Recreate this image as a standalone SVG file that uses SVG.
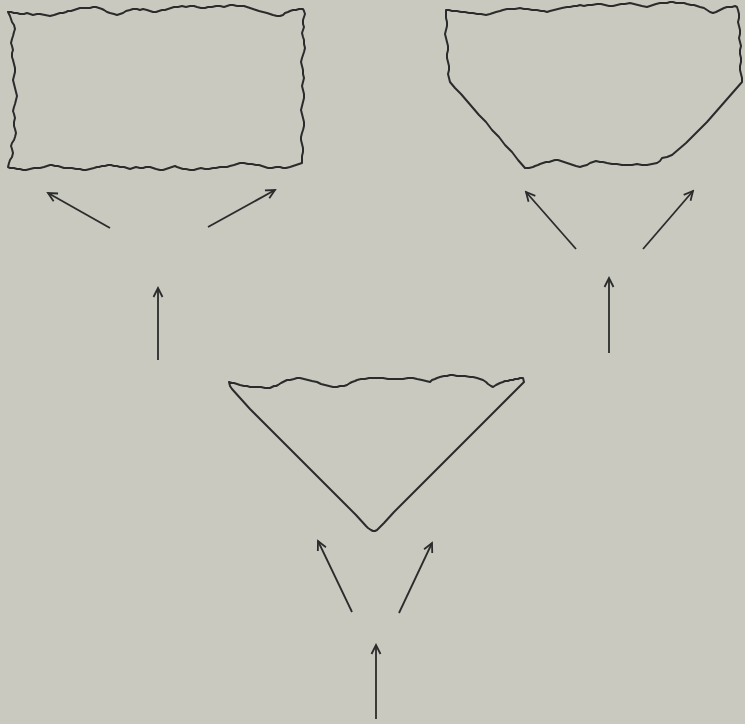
<svg xmlns="http://www.w3.org/2000/svg" width="745" height="724" viewBox="0 0 745 724">
<style>
.shape{fill:none;stroke:#2b2b2b;stroke-width:2;stroke-linejoin:round}
.arr{fill:none;stroke:#2b2b2b;stroke-width:1.8;marker-end:url(#ah)}
</style>
<defs>
<marker id="ah" markerUnits="userSpaceOnUse" markerWidth="14" markerHeight="14" viewBox="-12 -7 14 14" refX="0" refY="0" orient="auto">
<path d="M-9,-4.5 L0,0 L-9,4.5" fill="none" stroke="#2b2b2b" stroke-width="1.8" stroke-linejoin="miter"/>
</marker>
</defs>
<rect width="745" height="724" fill="#c9c9c0"/>
<g id="rect-fragment">
<path class="shape" d="M8,12 L11,12 L14,13 L17,13 L20,14 L24,14 L27,13 L30,14 L33,15 L37,14 L40,14 L45,15 L50,16 L54,15 L57,14 L60,13 L63,13 L66,12 L68,11 L71,11 L74,10 L77,9 L80,8 L84,8 L87,8 L90,8 L93,7 L96,7 L99,8 L102,9 L104,10 L107,12 L110,13 L114,14 L117,15 L120,14 L123,13 L126,11 L130,10 L133,9 L137,9 L140,10 L143,9 L147,10 L150,11 L153,12 L156,12 L159,11 L162,10 L165,10 L168,9 L171,8 L174,7 L178,7 L182,6 L186,7 L190,6 L194,6 L197,7 L201,8 L205,8 L208,7 L212,7 L216,6 L220,6 L224,7 L227,6 L230,5 L233,5 L237,6 L240,6 L244,6 L247,7 L250,8 L253,9 L256,10 L259,11 L263,12 L267,13 L270,14 L273,15 L277,16 L280,16 L283,15 L285,13 L288,12 L290,11 L293,10 L296,10 L299,9 L303,9 L304,11 L305,14 L304,17 L303,20 L303,24 L304,27 L303,30 L302,33 L303,37 L304,40 L304,44 L305,48 L304,52 L303,55 L302,58 L301,62 L302,66 L303,70 L303,74 L304,78 L303,82 L302,86 L303,90 L304,94 L304,98 L303,102 L302,106 L301,110 L302,114 L303,118 L304,122 L304,126 L303,130 L302,133 L301,137 L301,140 L302,144 L303,148 L303,152 L302,156 L302,160 L302,163 L299,164 L296,165 L293,166 L290,167 L286,168 L283,168 L280,167 L276,167 L272,168 L268,168 L265,167 L262,166 L259,165 L256,165 L252,164 L248,164 L244,163 L240,163 L237,164 L234,165 L230,166 L227,167 L224,167 L220,167 L216,168 L213,168 L209,169 L205,169 L201,168 L197,169 L194,170 L190,170 L186,169 L183,169 L180,168 L177,167 L175,166 L172,167 L169,168 L166,169 L163,170 L160,170 L156,169 L153,168 L150,167 L146,167 L143,168 L140,168 L136,167 L133,168 L130,169 L127,168 L124,167 L120,167 L117,166 L114,166 L111,165 L108,165 L105,166 L102,166 L99,167 L97,167 L94,168 L90,169 L86,170 L83,170 L80,169 L76,169 L72,168 L68,168 L64,168 L61,167 L58,166 L55,166 L52,165 L50,165 L47,166 L44,167 L40,168 L37,168 L34,168 L30,169 L26,170 L23,170 L20,169 L17,169 L14,168 L12,168 L10,168 L8,167 L9,163 L10,160 L12,157 L13,153 L12,149 L11,146 L12,143 L14,140 L15,137 L16,133 L15,129 L14,126 L14,122 L15,118 L14,114 L13,111 L14,107 L15,104 L16,100 L17,96 L16,92 L15,88 L14,84 L13,80 L14,76 L15,72 L15,68 L14,64 L13,60 L12,57 L12,53 L13,50 L12,46 L11,43 L12,39 L13,36 L14,32 L15,29 L14,25 L12,22 L11,19 L10,16 Z"/>
</g>
<g id="trapezoid-fragment">
<path class="shape" d="M446,10 L449,10 L452,11 L455,11 L457,11 L461,12 L465,12 L469,13 L473,13 L477,14 L481,14 L486,15 L490,14 L493,13 L496,12 L500,11 L503,10 L507,9 L511,9 L515,9 L520,8 L524,9 L528,9 L532,10 L537,10 L541,11 L544,11 L547,12 L550,11 L554,10 L558,9 L562,8 L567,7 L570,7 L574,6 L577,6 L580,5 L584,6 L588,5 L592,5 L597,4 L601,4 L605,5 L609,6 L613,6 L617,5 L621,4 L625,4 L630,3 L634,4 L638,5 L642,6 L647,7 L650,6 L653,5 L656,4 L660,3 L663,3 L667,3 L670,2 L673,2 L676,3 L680,3 L684,3 L687,4 L691,5 L694,5 L697,6 L700,7 L704,8 L707,10 L710,12 L713,13 L716,12 L720,10 L724,8 L727,7 L730,7 L732,7 L735,6 L737,7 L738,10 L739,14 L739,18 L738,22 L739,26 L740,30 L740,34 L739,38 L740,42 L741,46 L740,50 L740,54 L741,58 L741,62 L740,66 L740,70 L741,74 L742,78 L742,82 L735,90 L728,98 L721,106 L714,114 L707,122 L700,129 L693,136 L686,143 L679,149 L672,155 L667,157 L662,158 L660,161 L657,163 L652,164 L647,165 L642,165 L637,164 L632,165 L627,165 L622,165 L617,164 L612,164 L607,163 L603,162 L600,162 L596,161 L593,162 L590,163 L587,165 L583,166 L580,167 L576,166 L573,165 L570,164 L567,163 L564,162 L561,161 L558,160 L555,160 L552,161 L549,162 L546,162 L543,163 L540,164 L538,165 L535,166 L533,167 L529,168 L525,168 L518,160 L512,152 L505,145 L499,137 L492,130 L486,122 L479,115 L473,108 L467,101 L461,94 L455,88 L450,82 L449,78 L448,74 L449,70 L449,66 L448,62 L447,58 L447,54 L448,50 L448,46 L447,42 L446,38 L445,34 L446,30 L447,26 L447,22 L446,18 L446,14 Z"/>
</g>
<g id="triangle-fragment">
<path class="shape" d="M229,382 L232,383 L234,383 L237,384 L240,385 L244,386 L247,386 L250,387 L253,387 L257,387 L261,387 L265,388 L270,388 L272,387 L274,386 L276,386 L278,385 L281,383 L283,382 L285,381 L287,380 L290,380 L294,379 L297,378 L300,378 L304,379 L308,380 L312,381 L317,382 L321,384 L325,385 L329,386 L333,387 L337,387 L340,386 L344,386 L347,385 L350,383 L352,382 L355,381 L357,380 L361,379 L365,379 L369,378 L373,378 L378,378 L383,378 L388,379 L393,379 L398,379 L403,379 L408,378 L413,378 L417,379 L422,380 L426,381 L430,382 L432,380 L435,379 L437,378 L440,377 L444,376 L447,376 L450,375 L453,375 L457,376 L461,376 L465,376 L470,377 L473,377 L477,378 L480,379 L483,380 L486,382 L488,384 L491,386 L493,387 L496,385 L498,384 L500,383 L503,382 L505,381 L508,381 L510,380 L513,380 L515,379 L518,379 L520,378 L523,378 L524,382 L512,394 L500,406 L488,418 L476,430 L464,442 L452,454 L440,466 L428,478 L416,490 L404,502 L394,512 L384,523 L381,526 L379,528 L377,530 L375,531 L373,531 L371,530 L368,528 L366,526 L356,515 L346,505 L334,493 L322,481 L310,469 L298,457 L286,445 L274,433 L262,421 L250,409 L241,399 L232,389 L230,386 Z"/>
</g>
<g id="connectors">
<line class="arr" x1="110" y1="228" x2="48" y2="193"/>
<line class="arr" x1="208" y1="227" x2="275" y2="190"/>
<line class="arr" x1="158" y1="360" x2="158" y2="288"/>
<line class="arr" x1="576" y1="249" x2="526" y2="192"/>
<line class="arr" x1="643" y1="249" x2="693" y2="191"/>
<line class="arr" x1="609" y1="353" x2="609" y2="278"/>
<line class="arr" x1="352" y1="612" x2="318" y2="541"/>
<line class="arr" x1="399" y1="613" x2="432" y2="543"/>
<line class="arr" x1="376" y1="719" x2="376" y2="645"/>
</g>
</svg>
